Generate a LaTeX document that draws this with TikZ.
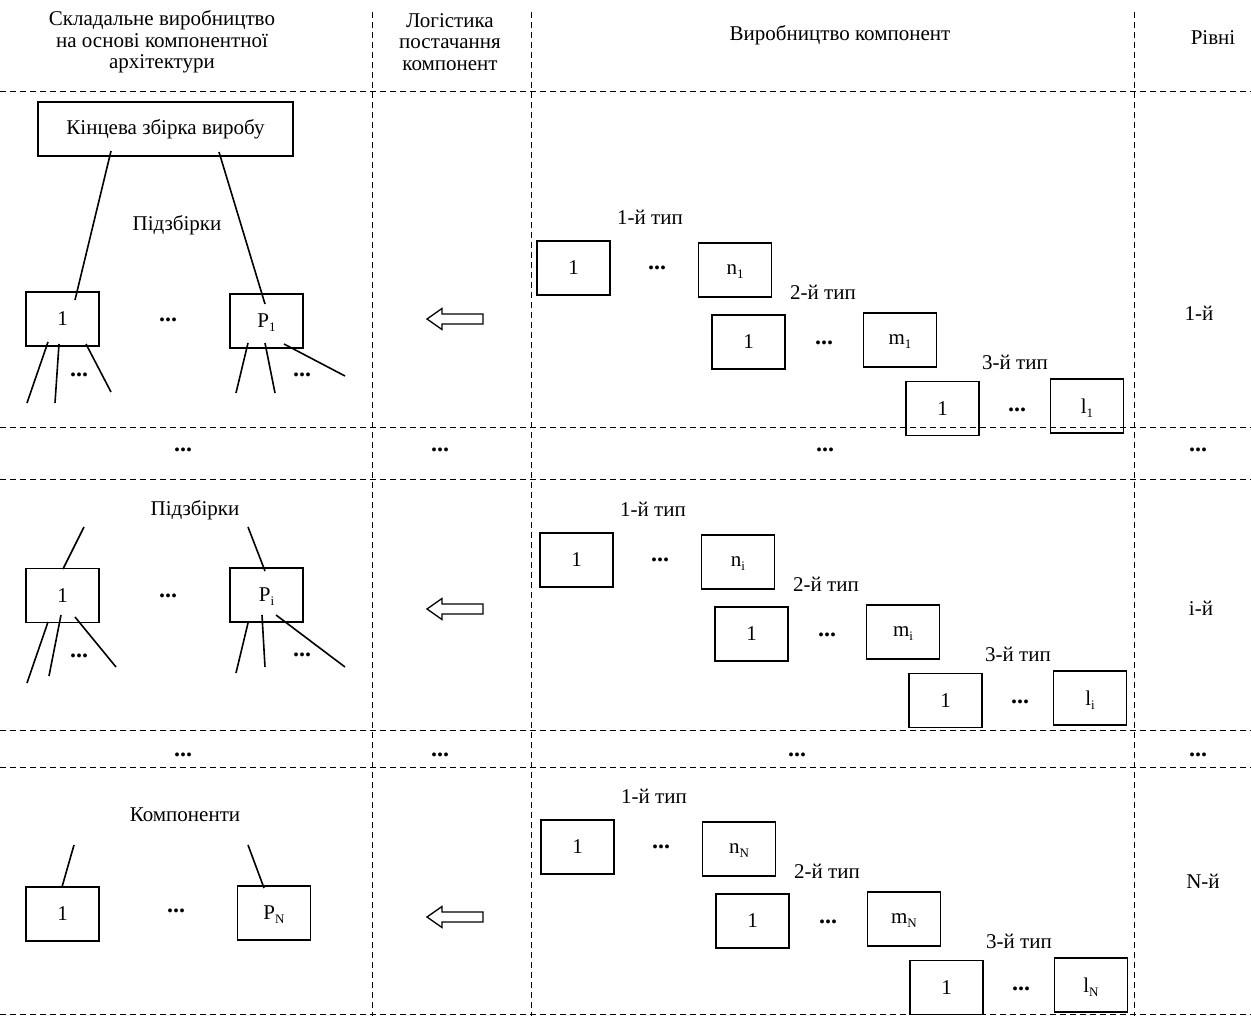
\documentclass[tikz,border=0pt]{standalone}
\usepackage{fontspec}
\setmainfont{Liberation Serif}
\usetikzlibrary{calc}
\tikzset{
  grid/.style={dash pattern=on 6pt off 4pt, line width=0.9pt},
  box/.style={draw, line width=1.6pt, minimum width=73pt, minimum height=54pt, inner sep=0pt, font=\fontsize{21}{23}\selectfont},
  lbl/.style={font=\fontsize{21}{23}\selectfont, inner sep=0pt},
  hdr/.style={align=center, font=\fontsize{21}{21.5}\selectfont, inner sep=0pt},
  link/.style={line width=1.6pt},
  dts/.style={font=\fontsize{24}{24}\selectfont\bfseries, inner sep=0pt},
  supply/.style={line width=1.3pt},
}
\newcommand\sbs[1]{\raisebox{-0.4ex}[0pt][0pt]{\fontsize{13}{13}\selectfont #1}}
\newcommand\comprow[4]{%
  \begin{scope}[shift={(#1,#2)}]
    \node[lbl] (#4t1) at (113,-24) {1-й тип};
    \node[box] (#4a1) at (36.5,27) {1};
    \node[dts] (#4d1) at (120,27) {...};
    \node[box] (#4an) at (198,29) {n\sbs{#3}};
    \node[lbl] (#4t2) at (286,51) {2-й тип};
    \node[box] (#4b1) at (211.5,101) {1};
    \node[dts] (#4d2) at (287,102) {...};
    \node[box] (#4bm) at (363,99) {m\sbs{#3}};
    \node[lbl] (#4t3) at (478,121) {3-й тип};
    \node[box] (#4c1) at (405.5,167.5) {1};
    \node[dts] (#4d3) at (480,169) {...};
    \node[box] (#4cl) at (550,165) {l\sbs{#3}};
  \end{scope}}
\newcommand\supplyarrow[2]{%
  \coordinate (#2) at (427,#1);
  \draw[supply] (#2) -- ++(15,-10.5) -- ++(0,5.5) -- ++(41,0) -- ++(0,10) -- ++(-41,0) -- ++(0,5.5) -- cycle;}
\begin{document}
\begin{tikzpicture}[x=1pt,y=-1pt]
\useasboundingbox (0,0) rectangle (1251,1016);
\fill[white] (0,0) rectangle (1251,1016);
% grid
\foreach \yy in {91,427,479,730,767,1014} \draw[grid] (0,\yy) -- (1251,\yy);
\foreach \xx in {372,531,1134} \draw[grid] (\xx,12) -- (\xx,1016);
% headers
\node[hdr] (h1) at (162,42) {Складальне виробництво\\на основі компонентної\\архітектури};
\node[hdr] (h2) at (450,42) {Логістика\\постачання\\компонент};
\node[hdr] (h3) at (840,35) {Виробництво компонент};
\node[hdr] (h4) at (1213,38) {Рівні};
% ===== row 1 left
\node[box, minimum width=255pt] (top) at (165.5,129) {Кінцева збірка виробу};
\node[lbl] (sub1) at (177,225) {Підзбірки};
\node[box] (r1a) at (62.5,319) {1};
\node[box] (r1p) at (266.5,321) {P\sbs{1}};
\node[dts] (r1d) at (168,320) {...};
\coordinate (c1s) at (111,151); \coordinate (c1e) at (75,300);
\coordinate (c2s) at (219,152); \coordinate (c2e) at (265,304);
\draw[link] (c1s) -- (c1e);
\draw[link] (c2s) -- (c2e);
\draw[link] (48,342) -- (27,403);
\draw[link] (59,344) -- (55,403);
\draw[link] (86,344) -- (111,392);
\node[dts] (r1ad) at (79,375) {...};
\draw[link] (248,343) -- (236,393);
\draw[link] (265,343) -- (275,393);
\draw[link] (284,344) -- (345,376);
\node[dts] (r1pd) at (302,375) {...};
\supplyarrow{319}{arr1}
\comprow{537}{241}{1}{ra}
\node[lbl] (lv1) at (1199,313) {1-й};
% dots row
\node[dts] (m1a) at (183,450) {...};
\node[dts] (m1b) at (440,450) {...};
\node[dts] (m1c) at (825,450) {...};
\node[dts] (m1d) at (1198,450) {...};
% ===== row i
\node[lbl] (subi) at (195,510) {Підзбірки};
\node[box] (ria) at (62.5,595.5) {1};
\node[box] (rip) at (266.5,595) {P\sbs{i}};
\node[dts] (rid) at (168,596) {...};
\draw[link] (84,527) -- (63,569);
\draw[link] (248,527) -- (265,571);
\draw[link] (48,622) -- (27,683);
\draw[link] (61,615) -- (49,676);
\draw[link] (75,617) -- (116,667);
\node[dts] (riad) at (79,656) {...};
\draw[link] (248,623) -- (236,673);
\draw[link] (262,615) -- (265,667);
\draw[link] (276,615) -- (345,667);
\node[dts] (ripd) at (302,655) {...};
\supplyarrow{609}{arri}
\comprow{540}{533}{i}{rb}
\node[lbl] (lvi) at (1201,608) {і-й};
% dots row
\node[dts] (m2a) at (183,755) {...};
\node[dts] (m2b) at (440,755) {...};
\node[dts] (m2c) at (797,755) {...};
\node[dts] (m2d) at (1198,755) {...};
% ===== row N
\node[lbl] (subN) at (185,815) {Компоненти};
\node[box] (rNa) at (62.5,914) {1};
\node[box] (rNp) at (274,913) {P\sbs{N}};
\node[dts] (rNd) at (176,911) {...};
\draw[link] (74,845) -- (62,887);
\draw[link] (248,845) -- (264,888);
\supplyarrow{917}{arrN}
\comprow{541}{820}{N}{rc}
\node[lbl] (lvN) at (1203,881) {N-й};
\end{tikzpicture}
\end{document}
